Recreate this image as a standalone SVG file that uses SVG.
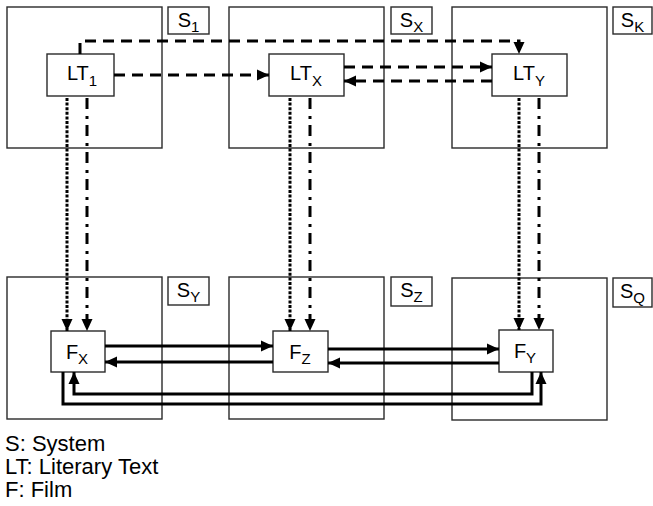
<svg xmlns="http://www.w3.org/2000/svg" width="653" height="506" viewBox="0 0 653 506">
<defs>
<marker id="ah" viewBox="0 0 12 12" refX="12" refY="6" markerWidth="12" markerHeight="12" markerUnits="userSpaceOnUse" orient="auto">
<path d="M0,0.5 L12,6 L0,11.5 Z" fill="#000"/>
</marker>
<style>
.sys{fill:#fff;stroke:#2a2a2a;stroke-width:1.4}
.lbl{fill:#fff;stroke:#2a2a2a;stroke-width:1.4}
.node{fill:#fff;stroke:#2a2a2a;stroke-width:1.4}
text{font-family:"Liberation Sans",Arial,sans-serif;fill:#000}
.t{font-size:20px}
.st{font-size:20px}
.sub{font-size:15px}
.leg{font-size:22px}
.c{fill:none;stroke:#000;stroke-width:3;marker-end:url(#ah)}
.dash{stroke-dasharray:11 7}
.dot{stroke-dasharray:3 1.6}
.dd{stroke-dasharray:11 7 3 6}
</style>
</defs>
<rect width="653" height="506" fill="#fff"/>
<g id="systems">
<rect class="sys" x="7" y="7" width="155" height="141"/>
<rect class="sys" x="229" y="7" width="155" height="141"/>
<rect class="sys" x="452" y="7" width="155" height="141"/>
<rect class="sys" x="7" y="277" width="155" height="142"/>
<rect class="sys" x="229" y="277" width="155" height="142"/>
<rect class="sys" x="452" y="278" width="155" height="142"/>
</g>
<g id="S1"><rect class="lbl" x="168" y="7" width="41" height="27"/><text class="st" x="188.5" y="27" text-anchor="middle">S<tspan class="sub" dy="5">1</tspan></text></g>
<g id="SX"><rect class="lbl" x="391" y="7" width="41" height="27"/><text class="st" x="411.5" y="27" text-anchor="middle">S<tspan class="sub" dy="5">X</tspan></text></g>
<g id="SK"><rect class="lbl" x="613" y="7" width="39" height="27"/><text class="st" x="632.5" y="27" text-anchor="middle">S<tspan class="sub" dy="5">K</tspan></text></g>
<g id="SY"><rect class="lbl" x="168" y="277" width="41" height="28"/><text class="st" x="188.5" y="297" text-anchor="middle">S<tspan class="sub" dy="5">Y</tspan></text></g>
<g id="SZ"><rect class="lbl" x="391" y="277" width="41" height="29"/><text class="st" x="411.5" y="297" text-anchor="middle">S<tspan class="sub" dy="5">Z</tspan></text></g>
<g id="SQ"><rect class="lbl" x="613" y="278" width="39" height="29"/><text class="st" x="632.5" y="298" text-anchor="middle">S<tspan class="sub" dy="5">Q</tspan></text></g>
<g id="LT1"><rect class="node" x="47" y="54" width="67" height="42"/><text class="t" x="82" y="80" text-anchor="middle">LT<tspan class="sub" dy="6">1</tspan></text></g>
<g id="LTX"><rect class="node" x="269" y="54" width="75" height="42"/><text class="t" x="306" y="80" text-anchor="middle">LT<tspan class="sub" dy="6">X</tspan></text></g>
<g id="LTY"><rect class="node" x="492" y="54" width="75" height="42"/><text class="t" x="529" y="80" text-anchor="middle">LT<tspan class="sub" dy="6">Y</tspan></text></g>
<g id="FX"><rect class="node" x="51" y="331" width="54" height="41"/><text class="t" x="77" y="359" text-anchor="middle">F<tspan class="sub" dy="5">X</tspan></text></g>
<g id="FZ"><rect class="node" x="273" y="331" width="55" height="41"/><text class="t" x="300" y="359" text-anchor="middle">F<tspan class="sub" dy="5">Z</tspan></text></g>
<g id="FY"><rect class="node" x="499" y="330" width="54" height="42"/><text class="t" x="525" y="358" text-anchor="middle">F<tspan class="sub" dy="5">Y</tspan></text></g>
<g id="connectors">
<path class="c dash" d="M80,54 V41 H519 V54"/>
<path class="c dash" d="M114,75 H269"/>
<path class="c dash" d="M344,67 H492"/>
<path class="c dash" d="M492,81 H344"/>
<path class="c dot" d="M67,98 V331"/>
<path class="c dd" d="M87,98 V331"/>
<path class="c dot" d="M290,98 V331"/>
<path class="c dd" d="M310,98 V331"/>
<path class="c dot" d="M519,98 V330"/>
<path class="c dd" d="M539,98 V330"/>
<path class="c" d="M105,346 H273"/>
<path class="c" d="M273,362 H105"/>
<path class="c" d="M328,349 H499"/>
<path class="c" d="M499,363 H328"/>
<path class="c" d="M532,372 V394 H74 V372"/>
<path class="c" d="M63,372 V404 H541 V372"/>
</g>
<g id="legend">
<text class="leg" x="5" y="451">S: System</text>
<text class="leg" x="5" y="474">LT: Literary Text</text>
<text class="leg" x="5" y="497">F: Film</text>
</g>
</svg>
